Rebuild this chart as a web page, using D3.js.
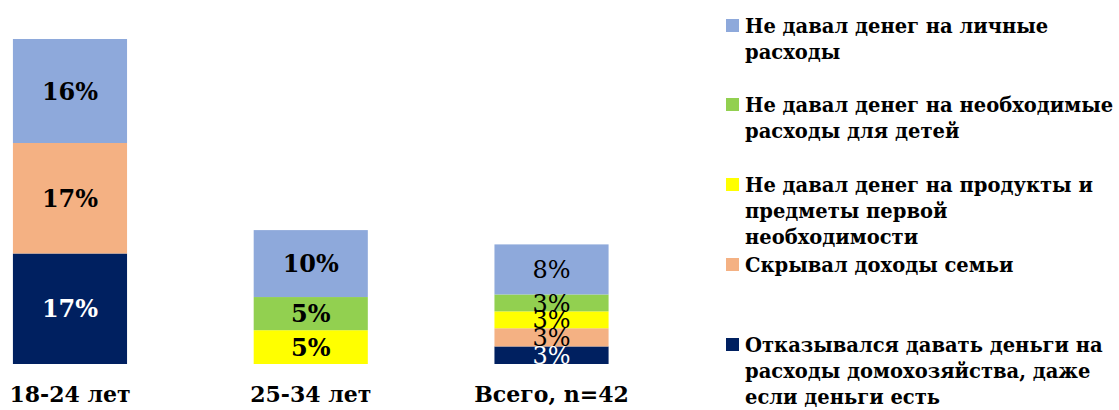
<!DOCTYPE html>
<html><head><meta charset="utf-8">
<script src="https://cdn.jsdelivr.net/npm/d3@7"></script>
<style>
html,body{margin:0;padding:0;background:#fff;}
svg{display:block;font-family:"DejaVu Serif",serif;}
</style></head>
<body><svg id="c" width="1119" height="410"></svg>
<script>
// ---- data ----
const categories = ["18-24 лет", "25-34 лет", "Всего, n=42"];
const seriesKeys = ["refused", "hid", "products", "children", "personal"]; // bottom -> top
const refused  = [17, 0, 2.7];
const hid      = [17, 0, 2.8];
const products = [0, 5.2, 2.6];
const children = [0, 5.1, 2.6];
const personal = [16, 10.3, 7.7];
const seriesColors = ["#002060", "#F4B183", "#FFFF00", "#92D050", "#8EA9DB"];
const labelColors  = ["#FFFFFF", "#000000", "#000000", "#000000", "#000000"];
const legendOrder = ["personal", "children", "products", "hid", "refused"];
const legendLines = [
  ["Не давал денег на личные", "расходы"],
  ["Не давал денег на необходимые", "расходы для детей"],
  ["Не давал денег на продукты и", "предметы первой", "необходимости"],
  ["Скрывал доходы семьи"],
  ["Отказывался давать деньги на", "расходы домохозяйства, даже", "если деньги есть"]
];
const valueDomain = [0, 50];

// ---- build ----
const seriesValues = {refused, hid, products, children, personal};
const table = categories.map((c, i) => {
  const row = {category: c, idx: i};
  seriesKeys.forEach(k => row[k] = seriesValues[k][i]);
  return row;
});
const stacked = d3.stack().keys(seriesKeys)(table);
const color = d3.scaleOrdinal().domain(seriesKeys).range(seriesColors);
const labelColor = d3.scaleOrdinal().domain(seriesKeys).range(labelColors);

const svg = d3.select("#c");
const x = d3.scaleBand().domain(categories).range([-50.4, 671.9]).paddingInner(0.526).paddingOuter(0.263);
const y = d3.scaleLinear().domain(valueDomain).range([364, 39]);

const g = svg.append("g");
stacked.forEach(s => {
  g.selectAll(null).data(s.filter(d => d[1] - d[0] > 0)).enter().append("rect")
    .attr("x", d => x(d.data.category))
    .attr("y", d => y(d[1]))
    .attr("width", x.bandwidth())
    .attr("height", d => y(d[0]) - y(d[1]))
    .attr("fill", color(s.key));
});
stacked.forEach(s => {
  g.selectAll(null).data(s.filter(d => d[1] - d[0] > 0)).enter().append("text")
    .attr("x", d => x(d.data.category) + x.bandwidth() / 2)
    .attr("y", d => (y(d[0]) + y(d[1])) / 2)
    .attr("dy", "0.36em")
    .attr("text-anchor", "middle")
    .attr("font-size", 24)
    .attr("font-weight", d => d.data.idx === 2 ? "normal" : "bold")
    .attr("fill", labelColor(s.key))
    .text(d => Math.round(d[1] - d[0]) + "%");
});

// x axis labels
const xAxis = d3.axisBottom(x).tickSize(0).tickPadding(0);
const ax = svg.append("g").attr("transform", "translate(0,386)").call(xAxis);
ax.select(".domain").remove();
ax.selectAll("text").attr("font-family", "DejaVu Serif").attr("font-size", 22)
  .attr("font-weight", "bold").attr("fill", "#000").attr("dy", "0.71em");

// legend
const legendBaselines = [33, 112, 192, 272, 352];
const lineH = 26;
const lg = svg.append("g");
legendOrder.forEach((k, i) => {
  const by = legendBaselines[i];
  lg.append("rect").attr("x", 726).attr("y", by - 14).attr("width", 13).attr("height", 13).attr("fill", color(k));
  const t = lg.append("text").attr("x", 745).attr("y", by).attr("font-size", 19.5).attr("font-weight", "bold").attr("fill", "#000");
  legendLines[i].forEach((ln, j) => {
    t.append("tspan").attr("x", 745).attr("y", by + j * lineH).text(ln);
  });
});
</script></body></html>
